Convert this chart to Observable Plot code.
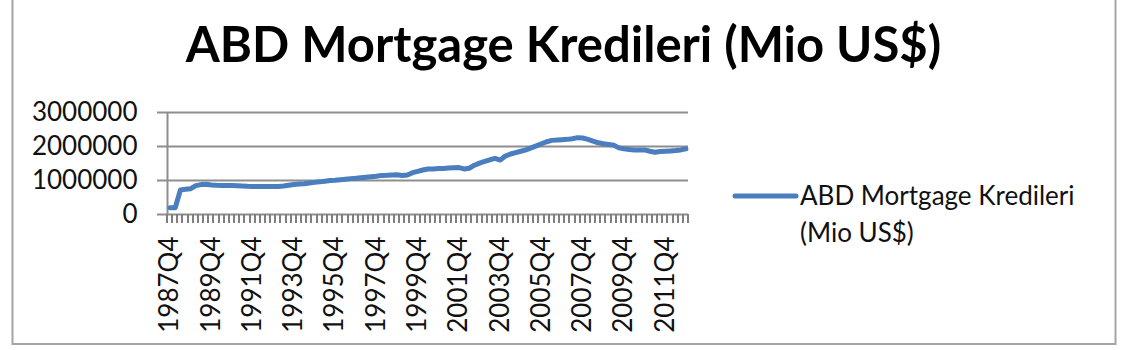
<!DOCTYPE html>
<html>
<head>
<meta charset="utf-8">
<script src="https://cdn.jsdelivr.net/npm/d3@7"></script>
<script src="https://cdn.jsdelivr.net/npm/@observablehq/plot@0.6"></script>
<style>
  html, body { margin: 0; padding: 0; background: #fff; }
  #chart { position: relative; width: 1121px; height: 350px; overflow: hidden; }
</style>
</head>
<body>
<div id="chart"></div>
<script>
// ---- data ----
const chartTitle = "ABD Mortgage Kredileri (Mio US$)";
const seriesName = ["ABD Mortgage Kredileri", "(Mio US$)"];

// quarterly categories 1987Q4 .. 2012Q4
const firstYear = 1987, firstQuarter = 4, nQuarters = 101;
const quarters = [];
for (let k = 0; k < nQuarters; k++) {
  const t = (firstQuarter - 1) + k;
  quarters.push(`${firstYear + Math.floor(t / 4)}Q${(t % 4) + 1}`);
}

const mortgage = [
  200000, 200000, 720000, 740000, 760000, 850000, 880000, 890000, 870000, 860000,
  855000, 850000, 850000, 845000, 840000, 830000, 825000, 820000, 820000, 820000,
  820000, 825000, 840000, 860000, 880000, 895000, 905000, 925000, 945000, 960000,
  980000, 1000000, 1010000, 1025000, 1040000, 1055000, 1065000, 1080000, 1095000, 1110000,
  1125000, 1150000, 1155000, 1165000, 1170000, 1150000, 1160000, 1230000, 1270000, 1310000,
  1340000, 1340000, 1350000, 1355000, 1365000, 1375000, 1380000, 1340000, 1360000, 1450000,
  1510000, 1560000, 1610000, 1650000, 1600000, 1720000, 1780000, 1820000, 1860000, 1900000,
  1960000, 2020000, 2080000, 2140000, 2180000, 2190000, 2200000, 2210000, 2230000, 2260000,
  2250000, 2210000, 2160000, 2110000, 2080000, 2060000, 2040000, 1960000, 1930000, 1910000,
  1900000, 1900000, 1900000, 1860000, 1830000, 1850000, 1860000, 1870000, 1880000, 1900000,
  1930000
];

const yTicks = [0, 1000000, 2000000, 3000000];
const xLabelIdx = d3.range(0, nQuarters, 8);          // 1987Q4, 1989Q4, ...
const catBounds = d3.range(0, nQuarters + 1).map(k => k - 0.5);

const data = quarters.map((q, i) => ({i, q, v: mortgage[i]}));

// ---- chart ----
const gridColor = "#8e8e8e";
const lineColor = "#4a7ebf";
const W = 1121, H = 350;
const mL = 167, mR = 433, mT = 112, mB = 136;
const yMax = 3000000;
const tickPx = 9;

const font = "Lato, 'Open Sans', sans-serif";

const plot = Plot.plot({
  width: W, height: H,
  marginLeft: mL, marginRight: mR, marginTop: mT, marginBottom: mB,
  style: {fontFamily: font, fontSize: "26px", color: "#111", background: "transparent"},
  x: {type: "linear", domain: [-0.5, nQuarters - 0.5], ticks: xLabelIdx,
      tickFormat: i => quarters[i], tickRotate: -90, tickSize: 0, tickPadding: 22, label: null},
  y: {domain: [0, yMax], ticks: yTicks, tickFormat: d3.format("d"),
      tickSize: 0, tickPadding: 30, label: null},
  marks: [
    Plot.ruleY(yTicks, {stroke: gridColor, strokeWidth: 2, insetLeft: -10}),
    Plot.ruleX([catBounds[0]], {stroke: gridColor, strokeWidth: 2}),
    Plot.line(data, {x: "i", y: "v", stroke: lineColor, strokeWidth: 5,
                     strokeLinejoin: "round", strokeLinecap: "round"})
  ]
});

document.getElementById("chart").appendChild(plot);

// ---- decorations: category tick marks, border, title, legend ----
const svg = d3.select(plot);
const sx = plot.scale("x"), sy = plot.scale("y");
const x0 = sx.apply ? sx.apply : d3.scaleLinear(sx.domain, sx.range);
const y0 = sy.apply ? sy.apply(0) : H - mB;
svg.append("g").attr("stroke", "#7f7f7f").attr("stroke-width", 2)
  .selectAll("line").data(catBounds).join("line")
  .attr("x1", d => Math.round(x0(d))).attr("x2", d => Math.round(x0(d)))
  .attr("y1", y0).attr("y2", y0 + tickPx);

svg.insert("rect", ":first-child")
  .attr("x", 12.5).attr("y", -2).attr("width", 1103).attr("height", 346)
  .attr("fill", "#fff").attr("stroke", "#a6a6a6").attr("stroke-width", 2);

svg.append("text")
  .attr("x", 563.5).attr("y", 62)
  .attr("text-anchor", "middle")
  .style("font", `bold 49px ${font}`)
  .attr("fill", "#000")
  .text(chartTitle);

const lg = svg.append("g").attr("text-anchor", "start");
lg.append("line")
  .attr("x1", 735).attr("x2", 796).attr("y1", 196).attr("y2", 196)
  .attr("stroke", lineColor).attr("stroke-width", 5).attr("stroke-linecap", "round");
lg.selectAll("text.lg").data(seriesName).join("text")
  .attr("class", "lg")
  .attr("x", 800).attr("y", (d, k) => 205 + k * 36.7)
  .attr("text-anchor", "start")
  .style("font", `26px ${font}`)
  .attr("fill", "#111")
  .text(d => d);
</script>
</body>
</html>
